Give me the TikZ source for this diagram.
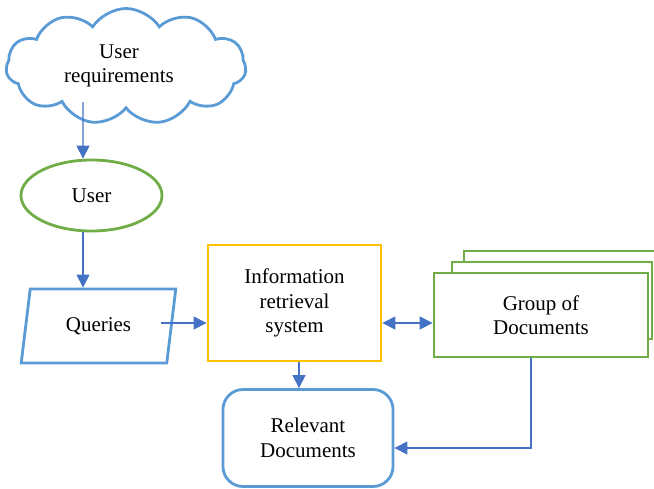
\documentclass[tikz,border=0pt]{standalone}
\usepackage{fontspec}
\setmainfont{Liberation Serif}
\usetikzlibrary{shapes.symbols,shapes.geometric,arrows.meta}
\definecolor{outblue}{HTML}{5B9BD5}
\definecolor{arrblue}{HTML}{4472C4}
\definecolor{outgreen}{HTML}{70AD47}
\definecolor{outyellow}{HTML}{FFC000}
\tikzset{
  lbl/.style={font=\fontsize{21}{24.5}\selectfont, align=center, inner sep=0pt},
  shapebox/.style={lbl, line width=2.8pt},
  arr/.style={draw=arrblue, line width=1.2pt, -{Triangle[length=13pt,width=13pt]}},
  darr/.style={draw=arrblue, line width=1.2pt, {Triangle[length=13pt,width=13pt]}-{Triangle[length=13pt,width=13pt]}},
}
\begin{document}
\begin{tikzpicture}[x=1pt,y=-1pt]
\useasboundingbox (0,0) rectangle (654,488);

% requirements cloud and its caption
\node[shapebox, cloud, cloud puffs=11, cloud puff arc=115, aspect=2.1, draw=outblue,
      minimum width=240pt, minimum height=116pt] (req) at (126,66.5) {};
\node[lbl] (reqtext) at (119,66) {User\\requirements};

% user ellipse
\node[shapebox, ellipse, draw=outgreen, minimum width=141pt, minimum height=71pt] (user) at (91.5,195.5) {User};

% queries parallelogram
\node[shapebox, trapezium, trapezium stretches=true, trapezium left angle=76, trapezium right angle=104,
      draw=outblue, minimum width=155pt, minimum height=74pt] (q) at (98.5,326) {Queries};

% information retrieval system
\node[shapebox, rectangle, draw=outyellow, minimum width=173pt, minimum height=116pt] (info) at (294.5,303)
  {Information\\retrieval\\system};

% stacked document boxes (back to front)
\draw[outgreen, line width=2.8pt] (670,251) -- (464,251) -- (464,262);
\node[shapebox, rectangle, draw=outgreen, fill=white, minimum width=200pt, minimum height=77pt] (docsmid) at (552,300.5) {};
\node[shapebox, rectangle, draw=outgreen, fill=white, minimum width=214pt, minimum height=84pt] (docs) at (541,315)
  {Group of\\Documents};

% relevant documents
\node[shapebox, rectangle, rounded corners=20pt, draw=outblue, minimum width=170pt, minimum height=97pt] (rel) at (308,438)
  {Relevant\\Documents};

% connectors
\coordinate (qout) at (161,323);
\draw[arr] ([xshift=-43pt,yshift=8pt]req.south) -- ([xshift=-8.5pt]user.north);
\draw[arr] ([xshift=-8.5pt]user.south) -- ([xshift=-8.5pt]user.south |- q.north);
\draw[arr] (qout) -- (qout -| info.west);
\draw[darr] ([yshift=-20pt]info.east) -- ([yshift=-20pt]info.east -| docs.west);
\draw[arr] ([xshift=4.5pt]info.south) -- ([xshift=4.5pt]info.south |- rel.north);
\draw[arr] ([xshift=-10pt]docs.south) |- ([yshift=-10pt]rel.east);
\end{tikzpicture}
\end{document}
